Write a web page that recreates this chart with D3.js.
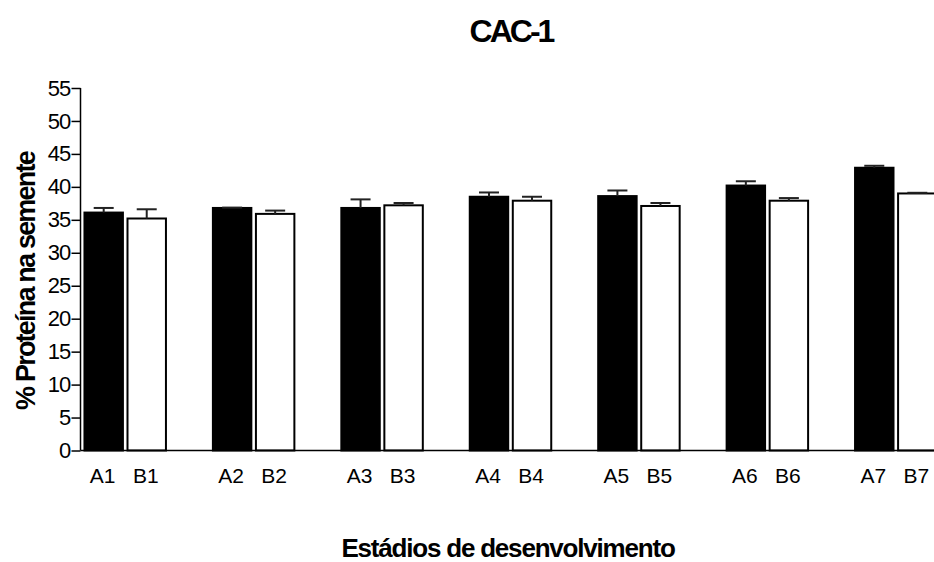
<!DOCTYPE html>
<html>
<head>
<meta charset="utf-8">
<script src="https://cdn.jsdelivr.net/npm/d3@7"></script>
<style>
  html, body { margin: 0; padding: 0; background: #fff; }
  svg { display: block; font-family: "Liberation Sans", Arial, sans-serif; }
</style>
</head>
<body>
<svg id="chart" width="934" height="562"></svg>
<script>
// Protein content (%) in seeds across developmental stages, two series per stage
const stages = ["1", "2", "3", "4", "5", "6", "7"];
const series = ["A", "B"];
const valuesA = [36.1, 36.8, 36.8, 38.5, 38.6, 40.2, 42.9];
const errorsA = [0.7, 0.05, 1.3, 0.65, 0.85, 0.65, 0.3];
const valuesB = [35.2, 35.9, 37.2, 37.9, 37.1, 37.9, 39.0];
const errorsB = [1.4, 0.5, 0.35, 0.6, 0.45, 0.4, 0.1];
const yTicks = [0, 5, 10, 15, 20, 25, 30, 35, 40, 45, 50, 55];

const rows = [];
stages.forEach((s, i) => {
  rows.push({ stage: s, series: "A", label: "A" + s, value: valuesA[i], err: errorsA[i] });
  rows.push({ stage: s, series: "B", label: "B" + s, value: valuesB[i], err: errorsB[i] });
});

const svg = d3.select("#chart");
const W = 934, H = 562;
const axisX = 80.5, axisBottom = 450.5, axisTop = 88;

const y = d3.scaleLinear().domain([0, 55]).range([axisBottom, axisTop]);

const x0 = d3.scaleBand()
  .domain(stages)
  .range([80, 941])
  .paddingInner(0.35)
  .paddingOuter(0.027);

const x1 = d3.scaleBand()
  .domain(series)
  .range([0, x0.bandwidth()])
  .paddingInner(0.06);

// Title
svg.append("text")
  .attr("x", 511).attr("y", 42)
  .attr("text-anchor", "middle")
  .attr("font-size", 32).attr("font-weight", "bold")
  .attr("letter-spacing", -3)
  .text("CAC-1");

// Bars
const g = svg.append("g");
g.selectAll("rect.bar")
  .data(rows)
  .join("rect")
  .attr("class", "bar")
  .attr("x", d => x0(d.stage) + x1(d.series) + 1)
  .attr("width", x1.bandwidth() - 2)
  .attr("y", d => y(d.value))
  .attr("height", d => y(0) - y(d.value))
  .attr("fill", d => d.series === "A" ? "#000" : "#fff")
  .attr("stroke", "#000")
  .attr("stroke-width", 2);

// Error bars (upper only)
const capHalf = 10;
const eb = g.selectAll("g.err").data(rows).join("g").attr("class", "err")
  .attr("stroke", "#222").attr("stroke-width", 2);
eb.append("line")
  .attr("x1", d => x0(d.stage) + x1(d.series) + x1.bandwidth() / 2)
  .attr("x2", d => x0(d.stage) + x1(d.series) + x1.bandwidth() / 2)
  .attr("y1", d => y(d.value))
  .attr("y2", d => y(d.value + d.err));
eb.append("line")
  .attr("x1", d => x0(d.stage) + x1(d.series) + x1.bandwidth() / 2 - capHalf)
  .attr("x2", d => x0(d.stage) + x1(d.series) + x1.bandwidth() / 2 + capHalf)
  .attr("y1", d => y(d.value + d.err))
  .attr("y2", d => y(d.value + d.err));

// Y axis
const yAxis = d3.axisLeft(y).tickValues(yTicks).tickSize(9).tickPadding(1);
const yg = svg.append("g").attr("transform", `translate(${axisX},0)`).call(yAxis);
yg.select(".domain").attr("stroke", "#000").attr("stroke-width", 1.5)
  .attr("d", `M0,${axisTop}V${axisBottom}`);
yg.selectAll(".tick line").attr("stroke", "#000").attr("stroke-width", 1.5);
yg.selectAll(".tick text").attr("font-size", 22).attr("fill", "#000")
  .attr("font-family", "Liberation Sans, Arial, sans-serif")
  .attr("letter-spacing", -0.8);

// X axis line
svg.append("line")
  .attr("x1", axisX).attr("x2", W)
  .attr("y1", axisBottom).attr("y2", axisBottom)
  .attr("stroke", "#000").attr("stroke-width", 1.5);

// Category labels under each bar
svg.selectAll("text.cat").data(rows).join("text")
  .attr("class", "cat")
  .attr("x", d => x0(d.stage) + x1(d.series) + x1.bandwidth() / 2 - 1)
  .attr("y", 483)
  .attr("text-anchor", "middle")
  .attr("font-size", 21)
  .text(d => d.label);

// Axis titles
svg.append("text")
  .attr("x", 508).attr("y", 557)
  .attr("text-anchor", "middle")
  .attr("font-size", 26).attr("font-weight", "bold")
  .attr("letter-spacing", -1.2)
  .text("Estádios de desenvolvimento");

svg.append("text")
  .attr("transform", "translate(35,281) rotate(-90)")
  .attr("text-anchor", "middle")
  .attr("font-size", 27).attr("font-weight", "bold")
  .attr("letter-spacing", -1.8)
  .text("% Proteína na semente");
</script>
</body>
</html>
